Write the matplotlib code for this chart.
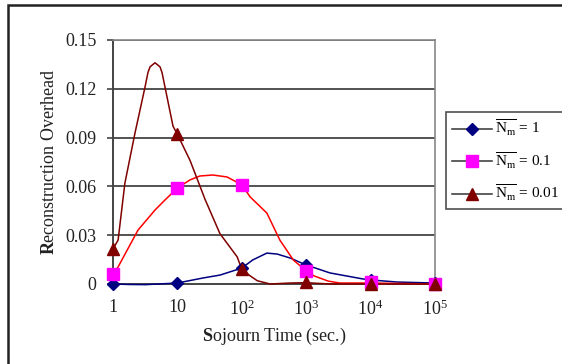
import matplotlib
matplotlib.use("Agg")
import matplotlib.pyplot as plt
from matplotlib.lines import Line2D
from matplotlib.patches import Rectangle

plt.rcParams['font.family'] = ['Liberation Serif', 'DejaVu Serif']
plt.rcParams['mathtext.fontset'] = 'custom'
plt.rcParams['mathtext.rm'] = 'Liberation Serif'
plt.rcParams['mathtext.it'] = 'Liberation Serif:italic'
plt.rcParams['mathtext.bf'] = 'Liberation Serif:bold'

# ---- data ----
marker_x = [1, 10, 100, 1000, 1e4, 1e5]
tick_labels_x = ["1", "10", "$10^2$", "$10^3$", "$10^4$", "$10^5$"]
y_ticks = [0, 0.03, 0.06, 0.09, 0.12, 0.15]
y_tick_labels = ["0", "0.03", "0.06", "0.09", "0.12", "0.15"]

# N_m = 1 (navy diamonds)
nm1_markers = [0.0, 0.0004, 0.0098, 0.0115, 0.0025, 0.0004]
nm1_curve_x = [1, 1.8, 3.2, 10, 25, 46, 100, 148, 245, 355, 560, 1000, 2340, 7600, 1e4, 2.6e4, 1e5]
nm1_curve_y = [0.0, -0.0003, -0.0004, 0.0006, 0.0037, 0.0055, 0.0098, 0.0148, 0.019, 0.0184, 0.016,
               0.0117, 0.0068, 0.0031, 0.0025, 0.0012, 0.0006]

# N_m = 0.1 (magenta squares, red line)
nm01_markers = [0.0061, 0.059, 0.061, 0.008, 0.001, 0.0]
nm01_curve_x = [1, 1.2, 2.45, 4.5, 6.4, 10, 15.7, 22.4, 35.5, 59, 100, 135, 245, 390, 630, 1000,
                1320, 2190, 3300, 1e4, 1e5]
nm01_curve_y = [0.0061, 0.0105, 0.0332, 0.0455, 0.0516, 0.059, 0.064, 0.0664, 0.067, 0.0658, 0.061,
                0.0535, 0.0436, 0.027, 0.0148, 0.008, 0.005, 0.0018, 0.0006, 0.0006, 0.0]

# N_m = 0.01 (dark red triangles)
nm001_markers = [0.0215, 0.092, 0.009, 0.001, 0.0, 0.0]
nm001_curve_x = [1, 1.2, 1.53, 2.2, 3.14, 3.49, 3.76, 4.49, 5.37, 5.77, 6.9, 8.55, 10, 15.7, 26.9,
                 45.7, 85, 100, 135, 174, 275, 560, 1000, 2340, 1e4, 1e5]
nm001_curve_y = [0.0215, 0.027, 0.062, 0.093, 0.121, 0.130, 0.1335, 0.136, 0.1335, 0.130, 0.115,
                 0.097, 0.092, 0.076, 0.052, 0.031, 0.0166, 0.009, 0.005, 0.002, 0.0, 0.0006,
                 0.0008, 0.0, 0.0, 0.0]

labels = [r"$\overline{\mathrm{N}_{\mathrm{m}}}$ = 1",
          r"$\overline{\mathrm{N}_{\mathrm{m}}}$ = 0.1",
          r"$\overline{\mathrm{N}_{\mathrm{m}}}$ = 0.01"]

W, H = 562, 364
fig = plt.figure(figsize=(W / 100, H / 100), dpi=100)
ax = fig.add_axes([113 / W, 1 - 284 / H, (435 - 113) / W, (284 - 40) / H])

navy = '#000080'
magenta = '#FF00FF'
red = '#FF0000'
darkred = '#800000'

ax.plot(nm1_curve_x, nm1_curve_y, color=navy, lw=1.1, zorder=3, clip_on=False)
ax.plot(nm01_curve_x, nm01_curve_y, color=red, lw=1.1, zorder=3, clip_on=False)
ax.plot(nm001_curve_x, nm001_curve_y, color=darkred, lw=1.1, zorder=3, clip_on=False)

ax.plot(marker_x, nm1_markers, ls='none', marker='D', ms=6.5, color=navy, zorder=5, clip_on=False)
ax.plot(marker_x, nm01_markers, ls='none', marker='s', ms=8, color=magenta, zorder=5, clip_on=False)
ax.plot(marker_x, nm001_markers, ls='none', marker='^', ms=9, color=darkred, zorder=6, clip_on=False)

ax.set_xscale('log')
ax.set_xlim(1, 1e5)
ax.set_ylim(0, 0.15)
ax.set_xticks(marker_x)
ax.set_xticklabels(tick_labels_x, fontsize=13)
ax.minorticks_off()
ax.set_yticks(y_ticks)
ax.set_yticklabels(y_tick_labels, fontsize=13)
ax.tick_params(axis='x', length=0, pad=11, colors='#222222')
ax.tick_params(axis='y', length=4, width=1.2, color='#444444', pad=8, labelcolor='#222222')

for yv in y_ticks[1:]:
    ax.axhline(yv, color='#444444', lw=1.3, zorder=1)
for s in ['top', 'right']:
    ax.spines[s].set_color('#888888')
    ax.spines[s].set_linewidth(1.2)
for s in ['left', 'bottom']:
    ax.spines[s].set_color('#444444')
    ax.spines[s].set_linewidth(1.4)

ax.set_xlabel(r"$\mathbf{S}$ojourn Time (sec.)", fontsize=13, labelpad=5, color='#222222')
ax.set_ylabel(r"$\mathbf{R}$econstruction Overhead", fontsize=13, labelpad=5, color='#222222')

handles = [
    Line2D([], [], color='#333333', lw=1.1, marker='D', ms=6.5, mfc=navy, mec=navy),
    Line2D([], [], color='#333333', lw=1.1, marker='s', ms=8, mfc=magenta, mec=magenta),
    Line2D([], [], color='#333333', lw=1.1, marker='^', ms=9, mfc=darkred, mec=darkred),
]
leg = fig.legend(handles, labels, loc='upper left', bbox_to_anchor=(446 / W, 1 - 112 / H),
                 fontsize=11, frameon=True, fancybox=False, edgecolor='#222222',
                 handlelength=2.6, handletextpad=0.2, labelspacing=0.8, borderpad=0.4,
                 borderaxespad=0.0)
leg.get_frame().set_linewidth(1.2)

fig.add_artist(Rectangle((8 / W, -0.1), 1.2, (H - 5) / H + 0.1, transform=fig.transFigure,
                         fill=False, lw=1.8, ec='#222222'))

fig.savefig('out.png', dpi=100)
